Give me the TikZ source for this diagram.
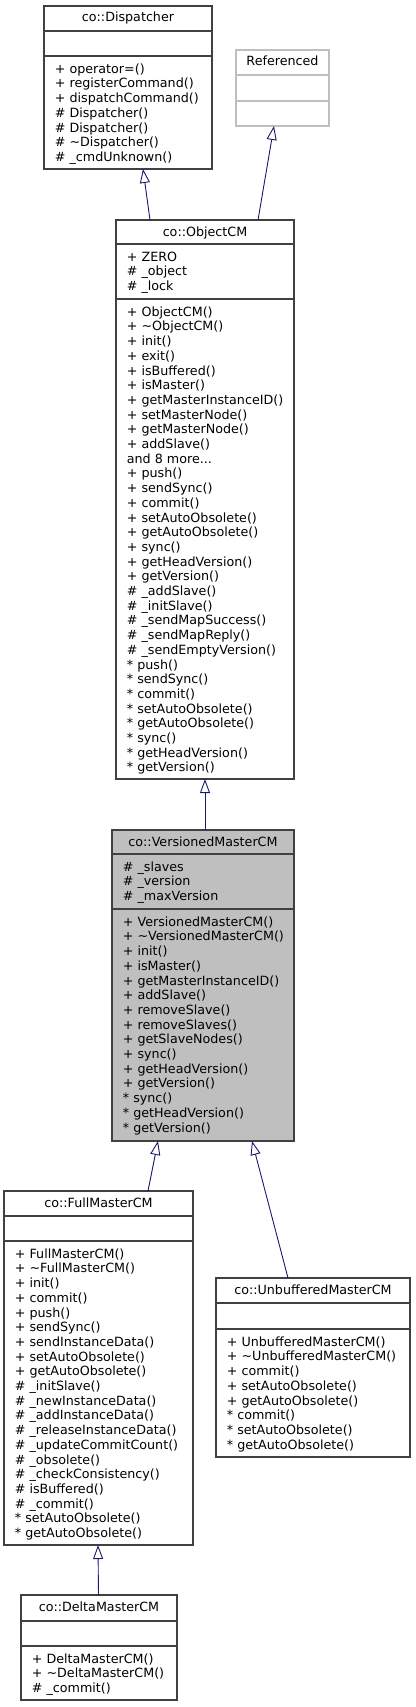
\documentclass[tikz,border=0pt]{standalone}
\usepackage{fontspec}
\setmainfont{DejaVu Sans}
\usetikzlibrary{arrows.meta}
\definecolor{edgeblue}{HTML}{191970}
\definecolor{boxline}{HTML}{404040}
\definecolor{boxgray}{HTML}{BFBFBF}
\begin{document}
\begin{tikzpicture}[x=1pt,y=-1pt,
  cls/.style={draw=boxline,line width=1.1pt,fill=white,anchor=north west,inner sep=0pt,outer sep=0pt},
  clsgrey/.style={cls,draw=boxgray},
  clstitle/.style={anchor=base,inner sep=0pt,font=\fontsize{12.7}{14.7}\selectfont},
  members/.style={anchor=north west,inner sep=0pt,align=left,font=\fontsize{12.7}{14.7}\selectfont},
  sep/.style={draw=boxline,line width=1.1pt},
  inherit/.style={draw=edgeblue,line width=0.9pt,-{Triangle[open,fill=white,length=14pt,width=10pt]}}]
\useasboundingbox (0,0) rectangle (415,1707);
\node[cls,minimum width=168pt,minimum height=163pt] (dispatcher) at (44,6) {};
\draw[sep] (44,31) -- (212,31);
\draw[sep] (44,56) -- (212,56);
\node[clstitle] (dispatcher-title) at (128,22) {co::Dispatcher};
\node[members] (dispatcher-ops) at (54.7,63.4) {+ operator=()\\+ registerCommand()\\+ dispatchCommand()\\\# Dispatcher()\\\# Dispatcher()\\\# \textasciitilde Dispatcher()\\\# \_cmdUnknown()};
\node[clsgrey,minimum width=93pt,minimum height=76pt] (referenced) at (236,50) {};
\draw[sep,draw=boxgray] (236,75) -- (329,75);
\draw[sep,draw=boxgray] (236,101) -- (329,101);
\node[clstitle] (referenced-title) at (282.5,66) {Referenced};
\node[cls,minimum width=178pt,minimum height=559pt] (objectcm) at (116,220) {};
\draw[sep] (116,244) -- (294,244);
\draw[sep] (116,299) -- (294,299);
\node[clstitle] (objectcm-title) at (205,236) {co::ObjectCM};
\node[members] (objectcm-attrs) at (126.7,251.4) {+ ZERO\\\# \_object\\\# \_lock};
\node[members] (objectcm-ops) at (126.7,306.4) {+ ObjectCM()\\+ \textasciitilde ObjectCM()\\+ init()\\+ exit()\\+ isBuffered()\\+ isMaster()\\+ getMasterInstanceID()\\+ setMasterNode()\\+ getMasterNode()\\+ addSlave()\\and 8 more...\\+ push()\\+ sendSync()\\+ commit()\\+ setAutoObsolete()\\+ getAutoObsolete()\\+ sync()\\+ getHeadVersion()\\+ getVersion()\\\# \_addSlave()\\\# \_initSlave()\\\# \_sendMapSuccess()\\\# \_sendMapReply()\\\# \_sendEmptyVersion()\\* push()\\* sendSync()\\* commit()\\* setAutoObsolete()\\* getAutoObsolete()\\* sync()\\* getHeadVersion()\\* getVersion()};
\node[cls,fill=boxgray,minimum width=182pt,minimum height=311pt] (versioned) at (112,830) {};
\draw[sep] (112,854) -- (294,854);
\draw[sep] (112,909) -- (294,909);
\node[clstitle] (versioned-title) at (203,846) {co::VersionedMasterCM};
\node[members] (versioned-attrs) at (122.7,861.4) {\# \_slaves\\\# \_version\\\# \_maxVersion};
\node[members] (versioned-ops) at (122.7,916.4) {+ VersionedMasterCM()\\+ \textasciitilde VersionedMasterCM()\\+ init()\\+ isMaster()\\+ getMasterInstanceID()\\+ addSlave()\\+ removeSlave()\\+ removeSlaves()\\+ getSlaveNodes()\\+ sync()\\+ getHeadVersion()\\+ getVersion()\\* sync()\\* getHeadVersion()\\* getVersion()};
\node[cls,minimum width=189pt,minimum height=354pt] (fullmaster) at (4,1191) {};
\draw[sep] (4,1216) -- (193,1216);
\draw[sep] (4,1241) -- (193,1241);
\node[clstitle] (fullmaster-title) at (98.5,1207) {co::FullMasterCM};
\node[members] (fullmaster-ops) at (14.7,1248.4) {+ FullMasterCM()\\+ \textasciitilde FullMasterCM()\\+ init()\\+ commit()\\+ push()\\+ sendSync()\\+ sendInstanceData()\\+ setAutoObsolete()\\+ getAutoObsolete()\\\# \_initSlave()\\\# \_newInstanceData()\\\# \_addInstanceData()\\\# \_releaseInstanceData()\\\# \_updateCommitCount()\\\# \_obsolete()\\\# \_checkConsistency()\\\# isBuffered()\\\# \_commit()\\* setAutoObsolete()\\* getAutoObsolete()};
\node[cls,minimum width=194pt,minimum height=179pt] (unbuffered) at (216,1278) {};
\draw[sep] (216,1303) -- (410,1303);
\draw[sep] (216,1329) -- (410,1329);
\node[clstitle] (unbuffered-title) at (313,1294) {co::UnbufferedMasterCM};
\node[members] (unbuffered-ops) at (226.7,1336.4) {+ UnbufferedMasterCM()\\+ \textasciitilde UnbufferedMasterCM()\\+ commit()\\+ setAutoObsolete()\\+ getAutoObsolete()\\* commit()\\* setAutoObsolete()\\* getAutoObsolete()};
\node[cls,minimum width=156pt,minimum height=105pt] (deltamaster) at (21,1595) {};
\draw[sep] (21,1621) -- (177,1621);
\draw[sep] (21,1646) -- (177,1646);
\node[clstitle] (deltamaster-title) at (99,1611) {co::DeltaMasterCM};
\node[members] (deltamaster-ops) at (31.7,1653.4) {+ DeltaMasterCM()\\+ \textasciitilde DeltaMasterCM()\\\# \_commit()};
\draw[inherit] ([xshift=-55pt]objectcm.north) -- ([xshift=15pt]dispatcher.south);
\draw[inherit] ([xshift=53pt]objectcm.north) -- ([xshift=-8.5pt]referenced.south);
\draw[inherit] ([xshift=2pt]versioned.north) -- (objectcm.south);
\draw[inherit] ([xshift=49.5pt]fullmaster.north) -- ([xshift=-45pt]versioned.south);
\draw[inherit] ([xshift=-25pt]unbuffered.north) -- ([xshift=49pt]versioned.south);
\draw[inherit] ([xshift=-0.5pt]deltamaster.north) -- ([xshift=-0.5pt]fullmaster.south);
\end{tikzpicture}
\end{document}
